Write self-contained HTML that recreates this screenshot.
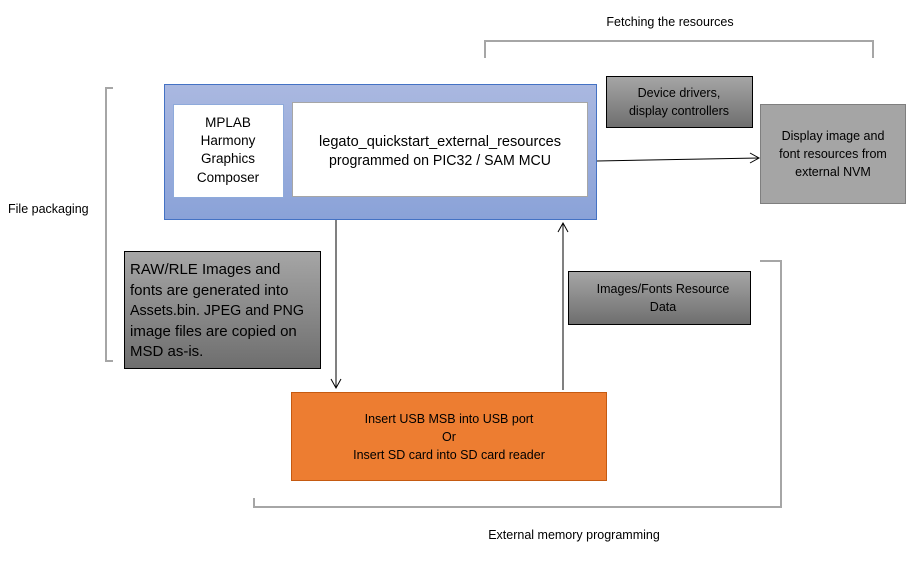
<!DOCTYPE html>
<html><head><meta charset="utf-8"><style>html,body{margin:0;padding:0;background:#fff}svg{display:block}</style></head>
<body>
<svg width="920" height="561" viewBox="0 0 920 561" xmlns="http://www.w3.org/2000/svg" font-family="Liberation Sans, sans-serif" font-size="12.5" fill="#000">
<defs>
<linearGradient id="blue" x1="0" y1="0" x2="0" y2="1"><stop offset="0" stop-color="#aab8e0"/><stop offset="1" stop-color="#8aa2d8"/></linearGradient>
<linearGradient id="gray" x1="0" y1="0" x2="0" y2="1"><stop offset="0" stop-color="#a6a6a6"/><stop offset="1" stop-color="#6e6e6e"/></linearGradient>
</defs>
<g fill="none" stroke="#a6a6a6" stroke-width="2">
<path d="M113 88 H106 V361 H113"/>
<path d="M485 58 V41 H873 V58"/>
<path d="M760 261 H781 V507 H254 V498"/>
</g>
<text x="670" y="26" text-anchor="middle">Fetching the resources</text>
<text x="8" y="213">File packaging</text>
<text x="574" y="539" text-anchor="middle">External memory programming</text>
<rect x="164.5" y="84.5" width="432" height="135" fill="url(#blue)" stroke="#4472c4"/>
<rect x="173.5" y="104.5" width="110" height="93" fill="#fff" stroke="#8eaadb"/>
<g font-size="13.5"><text text-anchor="middle" x="228"><tspan x="228" y="127">MPLAB</tspan><tspan x="228" y="145">Harmony</tspan><tspan x="228" y="163">Graphics</tspan><tspan x="228" y="182">Composer</tspan></text></g>
<rect x="292.5" y="102.5" width="295" height="94" fill="#fff" stroke="#a6a6a6"/>
<g font-size="14.5">
<text x="440" y="146" text-anchor="middle" textLength="242" lengthAdjust="spacingAndGlyphs">legato_quickstart_external_resources</text>
<text x="440" y="165" text-anchor="middle" textLength="222" lengthAdjust="spacingAndGlyphs">programmed on PIC32 / SAM MCU</text>
</g>
<rect x="606.5" y="76.5" width="146" height="51" fill="url(#gray)" stroke="#000"/>
<text x="679" y="97" text-anchor="middle">Device drivers,</text>
<text x="679" y="115" text-anchor="middle">display controllers</text>
<rect x="760.5" y="104.5" width="145" height="99" fill="#a5a5a5" stroke="#7f7f7f"/>
<text x="833" y="140" text-anchor="middle">Display image and</text>
<text x="833" y="158" text-anchor="middle">font resources from</text>
<text x="833" y="176" text-anchor="middle">external NVM</text>
<rect x="124.5" y="251.5" width="196" height="117" fill="url(#gray)" stroke="#000"/>
<g font-size="15">
<text x="130" y="274">RAW/RLE Images and</text>
<text x="130" y="295">fonts are generated into</text>
<text x="130" y="315" textLength="174" lengthAdjust="spacingAndGlyphs">Assets.bin. JPEG and PNG</text>
<text x="130" y="336">image files are copied on</text>
<text x="130" y="356">MSD as-is.</text>
</g>
<rect x="568.5" y="271.5" width="182" height="53" fill="url(#gray)" stroke="#000"/>
<text x="663" y="293" text-anchor="middle">Images/Fonts Resource</text>
<text x="663" y="311" text-anchor="middle">Data</text>
<rect x="291.5" y="392.5" width="315" height="88" fill="#ed7d31" stroke="#c55a11"/>
<text x="449" y="423" text-anchor="middle">Insert USB MSB into USB port</text>
<text x="449" y="441" text-anchor="middle">Or</text>
<text x="449" y="459" text-anchor="middle">Insert SD card into SD card reader</text>
<g fill="none" stroke="#000" stroke-width="1">
<path d="M597 161 L759 158"/><path d="M750 153 L759 158 L750 163"/>
<path d="M336 220 V388"/><path d="M331 379 L336 388 L341 379"/>
<path d="M563 390 V223"/><path d="M558 232 L563 223 L568 232"/>
</g>
</svg>
</body></html>
